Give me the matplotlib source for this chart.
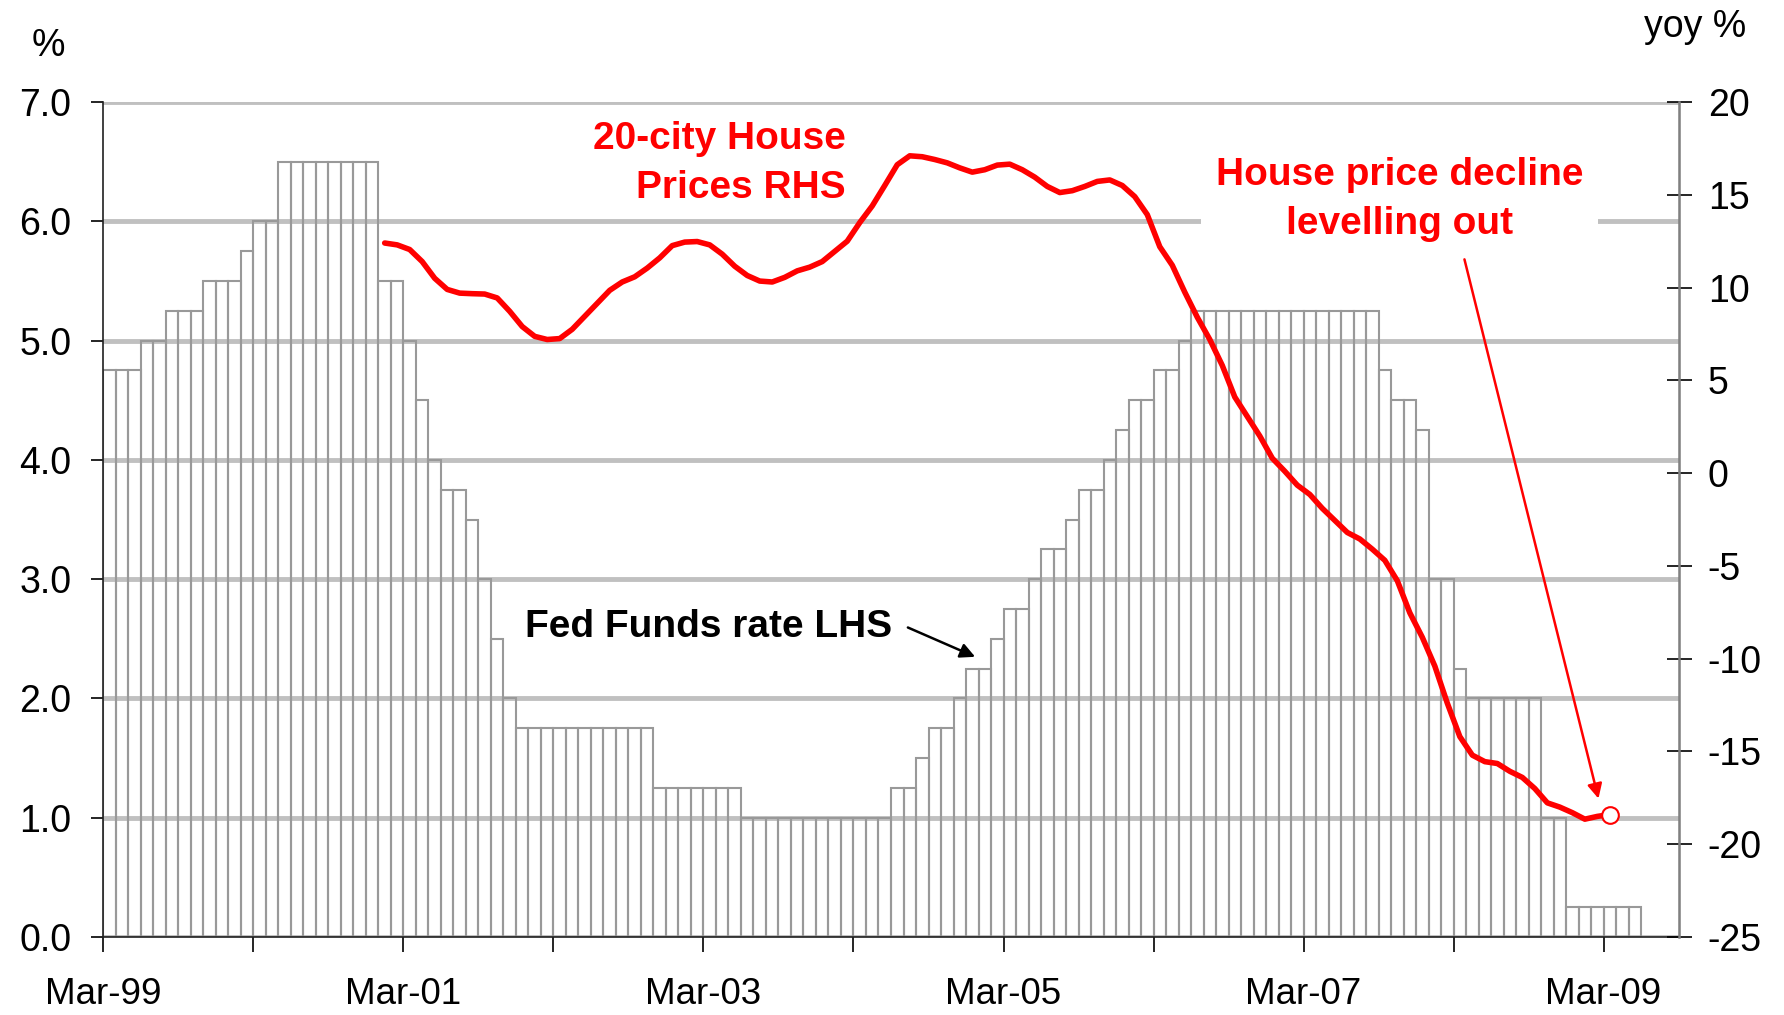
import matplotlib
matplotlib.use('Agg')
import matplotlib.pyplot as plt
import numpy as np
import pandas as pd

plt.rcParams['font.family'] = ['Liberation Sans', 'DejaVu Sans']
plt.rcParams['axes.unicode_minus'] = False

# ---------------- data ----------------
months = pd.date_range('1999-03-01', periods=123, freq='MS')
month_labels = [m.strftime('%b-%y') for m in months]

fed_funds = ([4.75] * 3 + [5.0] * 2 + [5.25] * 3 + [5.5] * 3 + [5.75] + [6.0] * 2 + [6.5] * 8 +
             [5.5] * 2 + [5.0] + [4.5] + [4.0] + [3.75] * 2 + [3.5] + [3.0] + [2.5] + [2.0] +
             [1.75] * 11 + [1.25] * 7 + [1.0] * 12 +
             [1.25] * 2 + [1.5] + [1.75] * 2 + [2.0] + [2.25] * 2 + [2.5] + [2.75] * 2 + [3.0] +
             [3.25] * 2 + [3.5] + [3.75] * 2 + [4.0] + [4.25] + [4.5] * 2 + [4.75] * 2 + [5.0] +
             [5.25] * 15 + [4.75] + [4.5] * 2 + [4.25] + [3.0] * 2 + [2.25] + [2.0] * 6 +
             [1.0] * 2 + [0.25] * 6)

house_start = 22  # Jan-01
house_prices = [12.4, 12.3, 12.05, 11.4, 10.5, 9.9, 9.7, 9.67, 9.65, 9.44,
                8.72, 7.9, 7.37, 7.2, 7.25, 7.75, 8.45, 9.15, 9.85, 10.3,
                10.58, 11.05, 11.6, 12.26, 12.45, 12.48, 12.3, 11.8, 11.15, 10.65,
                10.35, 10.3, 10.55, 10.9, 11.1, 11.4, 11.95, 12.5, 13.5, 14.4,
                15.5, 16.62, 17.1, 17.05, 16.9, 16.72, 16.45, 16.22, 16.35, 16.6,
                16.65, 16.35, 15.95, 15.45, 15.12, 15.22, 15.45, 15.72, 15.8, 15.5,
                14.9, 13.93, 12.2, 11.2, 9.75, 8.4, 7.2, 5.8, 4.1, 3.05,
                2.0, 0.8, 0.1, -0.65, -1.15, -1.9, -2.55, -3.2, -3.55, -4.1,
                -4.7, -5.8, -7.53, -8.85, -10.4, -12.4, -14.2, -15.2, -15.55, -15.65,
                -16.07, -16.4, -17.0, -17.77, -18.0, -18.3, -18.65, -18.5, -18.4]

left_ticks = [0, 1, 2, 3, 4, 5, 6, 7]
right_ticks = [-25, -20, -15, -10, -5, 0, 5, 10, 15, 20]

# ---------------- figure ----------------
W, H = 1784, 1015
fig = plt.figure(figsize=(W / 100, H / 100), dpi=100)
ax = fig.add_axes([103.4 / W, 78 / H, 1575.2 / W, 835 / H])
ax2 = ax.twinx()

x = np.arange(len(fed_funds))
ax.bar(x, fed_funds, width=1.0, align='edge', facecolor='none',
       edgecolor='#999999', linewidth=1.5, zorder=2)

ax.set_xlim(0, 126)
ax.set_ylim(0, 7)
ax.set_yticks(left_ticks)
ax.set_yticklabels([f'{v:.1f}' for v in left_ticks])
ax.yaxis.grid(True, color='#c0c0c0', linewidth=3.5, zorder=0)
ax.set_axisbelow(True)

tick_pos = list(range(0, 121, 12))
ax.set_xticks(tick_pos)
ax.set_xticklabels([month_labels[p] if p % 24 == 0 else '' for p in tick_pos])

for a in (ax, ax2):
    a.spines['top'].set_visible(False)
ax.spines['left'].set_color('#202020')
ax.spines['left'].set_linewidth(1.2)
ax.spines['bottom'].set_color('#202020')
ax.spines['bottom'].set_linewidth(1.2)
ax2.spines['right'].set_color('#808080')
ax2.spines['right'].set_linewidth(1.8)
ax2.spines['left'].set_visible(False)
ax2.spines['bottom'].set_visible(False)

ax.tick_params(axis='y', direction='out', length=9, width=1.2, labelsize=27, pad=14)
ax.tick_params(axis='x', direction='out', length=11, width=1.2, labelsize=26.5, pad=18)

ax2.set_ylim(-25, 20)
ax2.set_yticks(right_ticks)
ax2.tick_params(axis='y', direction='inout', length=18, width=1.2, labelsize=27, pad=12)

hx = np.arange(house_start, house_start + len(house_prices)) + 0.5
ax2.plot(hx, house_prices, color='#ff0000', linewidth=4.0, zorder=5,
         solid_capstyle='round', solid_joinstyle='round')
ax2.plot(hx[-1], house_prices[-1], 'o', markersize=12, markerfacecolor='white',
         markeredgecolor='#ff0000', markeredgewidth=1.5, zorder=6)

# ---------------- annotations ----------------
ax2.text(59.4, 16.7, '20-city House\nPrices RHS', color='#ff0000', fontsize=28,
         fontweight='bold', ha='right', va='center', multialignment='right',
         linespacing=1.45, zorder=7)
ax2.text(33.7, -8.32, 'Fed Funds rate LHS', color='black', fontsize=28,
         fontweight='bold', ha='left', va='center', zorder=7)
ax2.text(103.7, 14.75, 'House price decline\nlevelling out', color='#ff0000', fontsize=28,
         fontweight='bold', ha='center', va='center', multialignment='center',
         linespacing=1.48, zorder=7,
         bbox=dict(boxstyle='square,pad=0.38', facecolor='white', edgecolor='none'))

ax2.annotate('', xy=(69.73, -9.90), xytext=(64.35, -8.32),
             arrowprops=dict(arrowstyle='-|>', color='black', lw=1.8,
                             mutation_scale=22, shrinkA=0, shrinkB=0), zorder=7)
ax2.annotate('', xy=(119.59, -17.54), xytext=(108.87, 11.52),
             arrowprops=dict(arrowstyle='-|>', color='#ff0000', lw=1.8,
                             mutation_scale=22, shrinkA=0, shrinkB=0), zorder=7)

fig.text(48 / W, 1 - 45.5 / H, '%', fontsize=27, ha='center', va='center')
fig.text(1695.5 / W, 1 - 27 / H, 'yoy %', fontsize=27, ha='center', va='center')

fig.savefig('out.png', dpi=100)
